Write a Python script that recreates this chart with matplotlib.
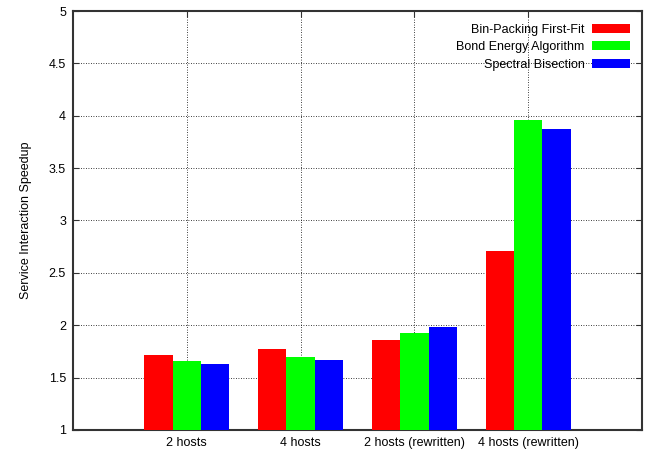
import numpy as np
import matplotlib
matplotlib.use('Agg')
import matplotlib.pyplot as plt
from matplotlib.ticker import FuncFormatter

plt.rcParams['font.family'] = ['Liberation Sans', 'DejaVu Sans']

categories = ['2 hosts', '4 hosts', '2 hosts (rewritten)', '4 hosts (rewritten)']
series_names = ['Bin-Packing First-Fit', 'Bond Energy Algorithm', 'Spectral Bisection']
bin_packing = [1.715, 1.772, 1.857, 2.712]
bond_energy = [1.658, 1.697, 1.925, 3.962]
spectral = [1.632, 1.668, 1.982, 3.874]
colors = ['#ff0000', '#00ff00', '#0000ff']

fig = plt.figure(figsize=(6.53, 4.53), dpi=100)
ax = fig.add_axes([0.1118, 0.0508, 0.8714, 0.9249])

x = np.arange(len(categories))
width = 0.25
for i, (vals, name) in enumerate(zip([bin_packing, bond_energy, spectral], series_names)):
    ax.bar(x + (i - 1) * width, np.array(vals) - 1, width, bottom=1,
           color=colors[i], label=name, linewidth=0, zorder=3)

ax.set_xlim(-1, 4)
ax.set_ylim(1, 5)
ax.set_xticks(x)
ax.set_xticklabels(categories, fontsize=9)
ax.set_yticks(np.arange(1, 5.01, 0.5))
ax.yaxis.set_major_formatter(FuncFormatter(lambda v, p: '%g' % v))
ax.tick_params(axis='y', labelsize=9, pad=5)
ax.tick_params(axis='x', pad=5)
ax.tick_params(direction='in', length=4, width=0.8, top=True, right=True, color='#333333')
ax.set_ylabel('Service Interaction Speedup', fontsize=9, labelpad=12)

ax.grid(True, linestyle=(0, (1, 2)), color='black', linewidth=0.6, zorder=0)
for s in ax.spines.values():
    s.set_linewidth(1.5)
    s.set_color('#333333')

leg = ax.legend(loc='upper right', frameon=False, markerfirst=False, fontsize=9,
                handlelength=3.0, handleheight=0.7, handletextpad=0.6,
                labelspacing=0.45, borderaxespad=0.6)
# right-align the rows so labels end flush against the swatches
for col in leg._legend_handle_box.get_children():
    col.align = 'right'

fig.savefig('out.png', dpi=100)
